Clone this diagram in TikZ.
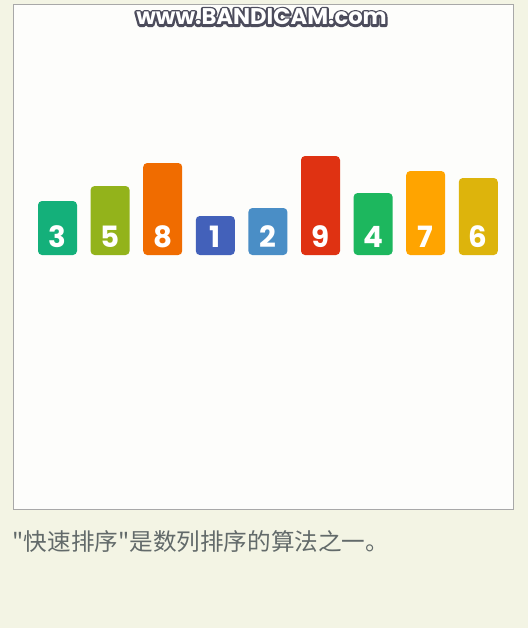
\documentclass[tikz,border=0pt]{standalone}
\usepackage{fontspec}
\newfontfamily\cjk{Noto Sans CJK SC}[Ligatures=ResetAll]
\newfontfamily\pop{Poppins}
\definecolor{bgcol}{HTML}{F3F4E4}
\definecolor{framecol}{HTML}{A8A8A8}
\definecolor{panelcol}{HTML}{FDFDFB}
\definecolor{captioncol}{HTML}{626A6A}
\definecolor{cA}{HTML}{14B07A}
\definecolor{cB}{HTML}{93B31B}
\definecolor{cC}{HTML}{F06C00}
\definecolor{cD}{HTML}{4361BA}
\definecolor{cE}{HTML}{4A8EC6}
\definecolor{cF}{HTML}{DF3212}
\definecolor{cG}{HTML}{1DB75E}
\definecolor{cH}{HTML}{FFA400}
\definecolor{cI}{HTML}{DDB40C}
\tikzset{
  bar/.style={rectangle, rounded corners=3pt, draw=none, inner sep=0pt, outer sep=0pt,
    minimum width=29.25pt, anchor=south},
  digit/.style={text=white, font=\pop\bfseries\fontsize{22}{22}\selectfont, inner sep=0pt, anchor=base},
  wm/.style={text=white, font=\pop\bfseries\fontsize{17}{17}\selectfont, inner sep=0pt},
  caption/.style={text=captioncol, font=\cjk\fontsize{17.7}{19}\selectfont, inner sep=0pt, anchor=west}
}
\begin{document}
\begin{tikzpicture}[x=0.75pt,y=-0.75pt]
\useasboundingbox (0,0) rectangle (528,628);
\fill[bgcol] (0,0) rectangle (528,628);
\draw[framecol, fill=panelcol, line width=0.9pt] (13.5,4.5) rectangle (513.5,509.5);
\node[wm] (wm) at (261.5,17) {\special{pdf:literal direct 1 Tr 3.2 w 1 j 0.30 0.30 0.36 RG}\rlap{www.BANDICAM.com}\special{pdf:literal direct 0 Tr}www.BANDICAM.com};
\foreach \i/\n/\h/\c in {0/3/54/cA, 1/5/69/cB, 2/8/92/cC, 3/1/39/cD, 4/2/47/cE, 5/9/99/cF, 6/4/62/cG, 7/7/84/cH, 8/6/77/cI} {
  \node[bar, fill=\c, minimum height=\h*0.75pt] (b\n) at (57.5+52.6*\i,255) {};
  \node[digit] (d\n) at (57.5+52.6*\i,247) {\n};
}
\node[caption] (cap) at (12.5,542) {"快速排序"是数列排序的算法之一。};
\end{tikzpicture}
\end{document}
